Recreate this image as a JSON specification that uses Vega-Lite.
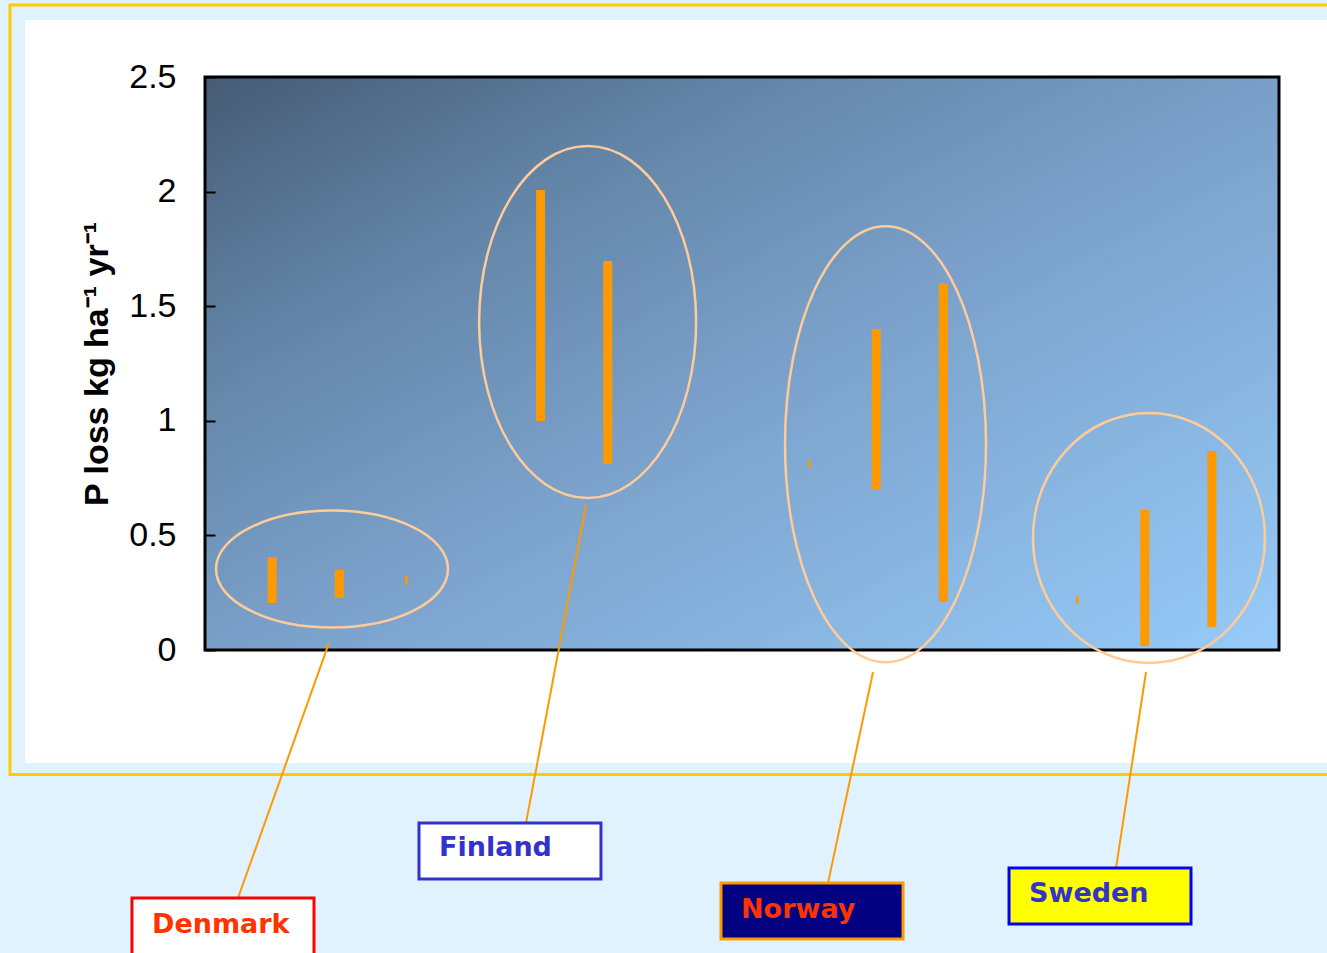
{
  "$schema": "https://vega.github.io/schema/vega-lite/v6.json",
  "width": 1074,
  "height": 573,
  "autosize": "none",
  "padding": {"left": 205, "top": 77, "right": 48, "bottom": 303},
  "background": "#e0f2fd",
  "config": {"view": {"stroke": null}},
  "datasets": {
    "panels": [
      {"part": "frame", "x": -2.905, "x2": 17.5, "y": 2.814, "y2": -0.543},
      {"part": "inner", "x": -2.68, "x2": 17.5, "y": 2.749, "y2": -0.493}
    ],
    "plot": [{"x": 0, "x2": 16, "y": 0, "y2": 2.5}],
    "bars": [
      {"country": "Denmark", "pos": 1, "low": 0.205, "high": 0.406},
      {"country": "Denmark", "pos": 2, "low": 0.227, "high": 0.349},
      {"country": "Finland", "pos": 5, "low": 0.999, "high": 2.007},
      {"country": "Finland", "pos": 6, "low": 0.812, "high": 1.697},
      {"country": "Norway", "pos": 10, "low": 0.702, "high": 1.401},
      {"country": "Norway", "pos": 11, "low": 0.209, "high": 1.601},
      {"country": "Sweden", "pos": 14, "low": 0.017, "high": 0.611},
      {"country": "Sweden", "pos": 15, "low": 0.1, "high": 0.868}
    ],
    "thin": [
      {"country": "Denmark", "pos": 3, "low": 0.284, "high": 0.323},
      {"country": "Norway", "pos": 9, "low": 0.794, "high": 0.829},
      {"country": "Sweden", "pos": 13, "low": 0.2, "high": 0.236}
    ],
    "groups": [
      {"country": "Denmark", "cx": 1.892, "cy": 0.353, "lx1": 1.847, "ly1": 0.031, "lx2": 0.492, "ly2": -1.082, "bx": -1.088, "bx2": 1.624, "by": -1.082, "by2": -1.36, "tx": -0.79, "ty": -1.2},
      {"country": "Finland", "cx": 5.7, "cy": 1.431, "lx1": 5.676, "ly1": 0.633, "lx2": 4.782, "ly2": -0.755, "bx": 3.188, "bx2": 5.899, "by": -0.755, "by2": -0.999, "tx": 3.486, "ty": -0.864},
      {"country": "Norway", "cx": 10.138, "cy": 0.898, "lx1": 9.952, "ly1": -0.096, "lx2": 9.281, "ly2": -1.017, "bx": 7.687, "bx2": 10.399, "by": -1.017, "by2": -1.261, "tx": 7.985, "ty": -1.134},
      {"country": "Sweden", "cx": 14.063, "cy": 0.489, "lx1": 14.019, "ly1": -0.096, "lx2": 13.572, "ly2": -0.951, "bx": 11.978, "bx2": 14.689, "by": -0.951, "by2": -1.195, "tx": 12.276, "ty": -1.065}
    ]
  },
  "layer": [
    {
      "data": {"name": "panels"},
      "mark": {"type": "rect"},
      "encoding": {
        "x": {"field": "x", "type": "quantitative", "scale": {"domain": [0, 16], "nice": false, "zero": false, "padding": 0}, "axis": null},
        "x2": {"field": "x2"},
        "y": {
          "field": "y", "type": "quantitative",
          "scale": {"domain": [0, 2.5], "nice": false, "zero": false, "padding": 0},
          "axis": {
            "title": "P loss kg ha⁻¹ yr⁻¹",
            "titleFont": "Liberation Sans", "titleFontSize": 34, "titleFontWeight": "bold", "titleColor": "#000000",
            "titlePadding": 14,
            "labelFont": "Liberation Sans", "labelFontSize": 34, "labelColor": "#000000",
            "values": [0, 0.5, 1, 1.5, 2, 2.5],
            "format": "~g",
            "domain": false,
            "tickSize": -10, "tickWidth": 2, "tickColor": "#000000",
            "labelPadding": 39, "grid": false, "zindex": 1
          }
        },
        "y2": {"field": "y2"},
        "fill": {"field": "part", "type": "nominal", "scale": {"domain": ["frame", "inner"], "range": ["#e0f2fd", "#ffffff"]}, "legend": null},
        "stroke": {"field": "part", "type": "nominal", "scale": {"domain": ["frame", "inner"], "range": ["#ffcc00", "#ffffff"]}, "legend": null},
        "strokeWidth": {"field": "part", "type": "nominal", "scale": {"domain": ["frame", "inner"], "range": [3, 0]}, "legend": null}
      }
    },
    {
      "data": {"name": "plot"},
      "mark": {
        "type": "rect",
        "stroke": "#000000",
        "strokeWidth": 3,
        "fill": {
          "gradient": "linear", "x1": 0, "y1": 0, "x2": 1, "y2": 1,
          "stops": [
            {"offset": 0, "color": "#465b75"},
            {"offset": 0.25, "color": "#6284a6"},
            {"offset": 0.5, "color": "#799fc8"},
            {"offset": 1, "color": "#97cbf9"}
          ]
        }
      },
      "encoding": {
        "x": {"field": "x", "type": "quantitative", "axis": null},
        "x2": {"field": "x2"},
        "y": {"field": "y", "type": "quantitative"},
        "y2": {"field": "y2"}
      }
    },
    {
      "data": {"name": "bars"},
      "mark": {"type": "bar", "width": 9, "color": "#ff9900"},
      "encoding": {
        "x": {"field": "pos", "type": "quantitative", "axis": null},
        "y": {"field": "low", "type": "quantitative"},
        "y2": {"field": "high"}
      }
    },
    {
      "data": {"name": "thin"},
      "mark": {"type": "bar", "width": 2.5, "color": "#ff9900"},
      "encoding": {
        "x": {"field": "pos", "type": "quantitative", "axis": null},
        "y": {"field": "low", "type": "quantitative"},
        "y2": {"field": "high"}
      }
    },
    {
      "data": {"name": "groups"},
      "mark": {"type": "point", "filled": false, "stroke": "#ffcc99", "strokeWidth": 2.5, "opacity": 1, "size": 4},
      "encoding": {
        "x": {"field": "cx", "type": "quantitative", "axis": null},
        "y": {"field": "cy", "type": "quantitative"},
        "shape": {
          "field": "country", "type": "nominal", "legend": null,
          "scale": {
            "domain": ["Denmark", "Finland", "Norway", "Sweden"],
            "range": [
              "M -116 0 A 116 58.5 0 1 0 116 0 A 116 58.5 0 1 0 -116 0 Z",
              "M -108.5 0 A 108.5 176 0 1 0 108.5 0 A 108.5 176 0 1 0 -108.5 0 Z",
              "M -100.5 0 A 100.5 218 0 1 0 100.5 0 A 100.5 218 0 1 0 -100.5 0 Z",
              "M -116 0 A 116 125 0 1 0 116 0 A 116 125 0 1 0 -116 0 Z"
            ]
          }
        }
      }
    },
    {
      "data": {"name": "groups"},
      "mark": {"type": "rule", "color": "#ff9900", "strokeWidth": 2},
      "encoding": {
        "x": {"field": "lx1", "type": "quantitative", "axis": null},
        "y": {"field": "ly1", "type": "quantitative"},
        "x2": {"field": "lx2"},
        "y2": {"field": "ly2"}
      }
    },
    {
      "data": {"name": "groups"},
      "mark": {"type": "rect", "strokeWidth": 3},
      "encoding": {
        "x": {"field": "bx", "type": "quantitative", "axis": null},
        "x2": {"field": "bx2"},
        "y": {"field": "by", "type": "quantitative"},
        "y2": {"field": "by2"},
        "fill": {"field": "country", "type": "nominal", "legend": null, "scale": {"domain": ["Denmark", "Finland", "Norway", "Sweden"], "range": ["#ffffff", "#ffffff", "#000080", "#ffff00"]}},
        "stroke": {"field": "country", "type": "nominal", "legend": null, "scale": {"domain": ["Denmark", "Finland", "Norway", "Sweden"], "range": ["#ff0000", "#3333cc", "#ff9900", "#0000ff"]}}
      }
    },
    {
      "data": {"name": "groups"},
      "mark": {"type": "text", "align": "left", "baseline": "middle", "font": "DejaVu Sans", "fontWeight": "bold", "fontSize": 27},
      "encoding": {
        "x": {"field": "tx", "type": "quantitative", "axis": null},
        "y": {"field": "ty", "type": "quantitative"},
        "text": {"field": "country"},
        "color": {"field": "country", "type": "nominal", "legend": null, "scale": {"domain": ["Denmark", "Finland", "Norway", "Sweden"], "range": ["#ff3300", "#3333cc", "#ff3300", "#3333cc"]}}
      }
    }
  ],
  "resolve": {"scale": {"fill": "independent", "stroke": "independent", "color": "independent"}}
}
